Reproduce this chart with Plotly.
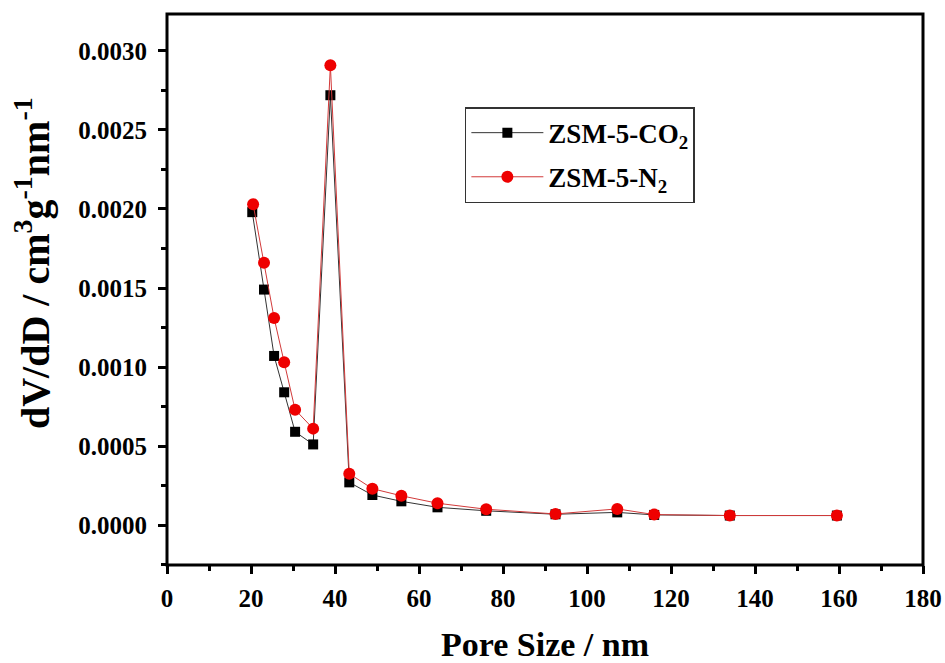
import plotly.graph_objects as go

pore_co2 = [20.3, 23.1, 25.5, 27.9, 30.5, 34.8, 38.9, 43.4, 48.9, 55.8, 64.4, 76.0, 92.5, 107.2, 116.0, 134.0, 159.5]
dv_co2 = [0.00198, 0.00149, 0.00107, 0.00084, 0.00059, 0.00051, 0.00272, 0.000270, 0.000190, 0.000150, 0.000112, 0.000090, 0.000068, 0.000080, 0.000064, 0.000060, 0.000060]

pore_n2 = [20.5, 23.1, 25.5, 27.9, 30.5, 34.8, 38.9, 43.4, 48.9, 55.8, 64.4, 76.0, 92.5, 107.2, 116.0, 134.0, 159.5]
dv_n2 = [0.00203, 0.00166, 0.00131, 0.00103, 0.00073, 0.00061, 0.00291, 0.000325, 0.000230, 0.000185, 0.000138, 0.000100, 0.000070, 0.000102, 0.000066, 0.000060, 0.000060]

x_label = "Pore Size / nm"
y_label = "dV/dD / cm<sup>3</sup>g<sup>-1</sup>nm<sup>-1</sup>"

FONT = "Liberation Serif"

fig = go.Figure()
fig.add_trace(go.Scatter(
    x=pore_co2, y=dv_co2, mode="lines+markers",
    name="<b>ZSM-5-CO<sub>2</sub></b>", legendgroup="a",
    line=dict(color="#333333", width=1),
    marker=dict(symbol="square", size=10, color="black"),
))
fig.add_trace(go.Scatter(
    x=pore_n2, y=dv_n2, mode="lines+markers",
    name="<b>ZSM-5-N<sub>2</sub></b>", legendgroup="b",
    line=dict(color="#d23a3a", width=1),
    marker=dict(symbol="circle", size=12, color="#ee0000"),
))

axis_common = dict(
    showline=False, mirror=False, automargin=False,
    ticks="outside", ticklen=8, tickwidth=3, tickcolor="black",
    showgrid=False, zeroline=False,
    tickfont=dict(family=FONT, size=25, color="black", weight="bold"),
)

fig.update_xaxes(
    range=[0, 180], dtick=20, tick0=0, ticklabelstandoff=3,
    minor=dict(ticks="outside", ticklen=5, tickwidth=3, tickcolor="black", dtick=10),
    title=dict(text="<b>" + x_label + "</b>", font=dict(family=FONT, size=34, color="black"), standoff=22),
    **axis_common,
)
fig.update_yaxes(
    range=[-0.000253, 0.003234], dtick=0.0005, tick0=0, tickformat=".4f", ticklabelstandoff=6,
    minor=dict(ticks="outside", ticklen=5, tickwidth=3, tickcolor="black", dtick=0.00025),
    **axis_common,
)

fig.add_shape(type="rect", xref="paper", yref="paper", x0=0, x1=1, y0=0, y1=1,
              line=dict(color="black", width=3), layer="above")

fig.add_annotation(
    text="<b>" + y_label + "</b>", textangle=-90,
    xref="paper", yref="paper", x=0, y=0.548, xanchor="center", yanchor="middle",
    xshift=-135, showarrow=False,
    font=dict(family=FONT, size=40, color="black"),
)

fig.update_layout(
    width=945, height=663,
    margin=dict(l=167, r=22, t=14, b=98, autoexpand=False),
    paper_bgcolor="white", plot_bgcolor="white",
    showlegend=True,
    legend=dict(
        x=0.394, y=0.831, xanchor="left", yanchor="top",
        bordercolor="#333333", borderwidth=1.5, bgcolor="white",
        font=dict(family=FONT, size=27, color="black"),
        itemwidth=72, tracegroupgap=6,
    ),
)

fig.write_html("out.html")
